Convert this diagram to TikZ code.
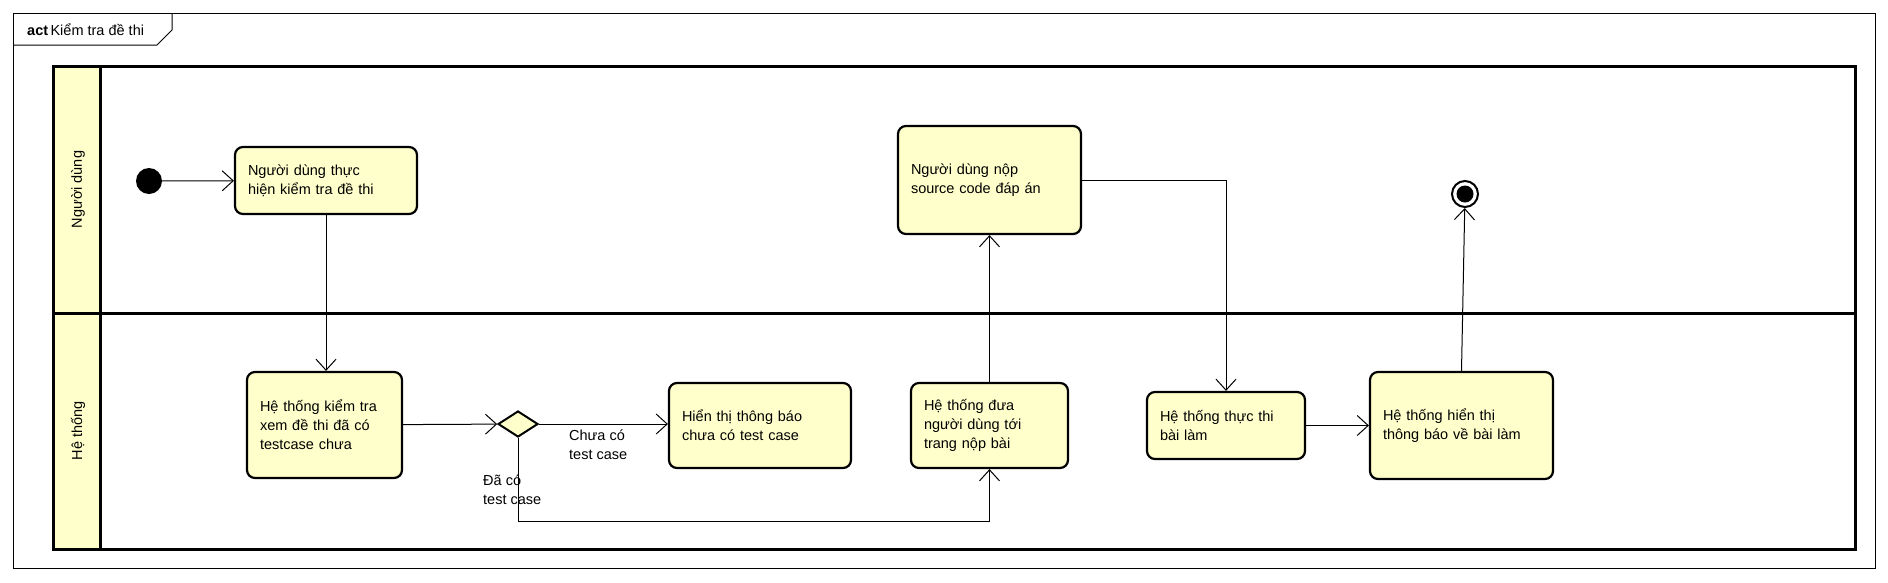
\documentclass[tikz,border=0pt]{standalone}
\usepackage{fontspec}
\setmainfont{Liberation Sans}
\usetikzlibrary{arrows.meta,shapes.geometric}
\definecolor{uyellow}{RGB}{255,255,204}
\tikzset{
  actbox/.style={draw, line width=2.2pt, rounded corners=8pt, fill=uyellow, align=left,
    inner xsep=13pt, inner ysep=0pt, font=\fontsize{14.5}{19}\selectfont},
  flow/.style={line width=1pt, -{Straight Barb[length=11pt,width=20pt]}},
  lbl/.style={font=\fontsize{14.5}{19}\selectfont, align=left, inner sep=0pt, anchor=north west},
  lane/.style={line width=3pt},
}
\begin{document}
\begin{tikzpicture}[x=1pt,y=-1pt]
\useasboundingbox (0,0) rectangle (1888,582);
% frame
\draw[line width=1pt] (13,13) rectangle (1875,568);
\draw[line width=1pt] (13,45) -- (157,45) -- (172,30) -- (172,13);
\node[anchor=west, inner sep=0pt, font=\fontsize{14.5}{17}\selectfont] (title) at (27,30) {\textbf{act}\,Kiểm tra đề thi};
% lanes
\fill[uyellow] (53,66) rectangle (100,549);
\draw[lane] (53,66) rectangle (1855,549);
\draw[lane] (100,66) -- (100,549);
\draw[lane] (53,313) -- (1855,313);
\node[rotate=90, font=\fontsize{14.5}{17}\selectfont] (lane1) at (78,189.5) {Người dùng};
\node[rotate=90, font=\fontsize{14.5}{17}\selectfont] (lane2) at (78,431) {Hệ thống};
% nodes
\node[circle, fill=black, minimum size=26pt, inner sep=0pt] (init) at (149,181) {};
\node[actbox, text width=156pt, minimum height=67pt] (A) at (326,180.5) {Người dùng thực\\hiện kiểm tra đề thi};
\node[actbox, text width=129pt, minimum height=106pt] (B) at (324.5,425) {Hệ thống kiểm tra\\xem đề thi đã có\\testcase chưa};
\node[diamond, draw, line width=2pt, fill=uyellow, minimum width=40pt, minimum height=26pt, inner sep=0pt] (dec) at (518,424) {};
\node[actbox, text width=156pt, minimum height=85pt] (C) at (760,425.5) {Hiển thị thông báo\\chưa có test case};
\node[actbox, text width=131pt, minimum height=85pt] (Dn) at (989.5,425.5) {Hệ thống đưa\\người dùng tới\\trang nộp bài};
\node[actbox, text width=157pt, minimum height=108pt] (E) at (989.5,180) {Người dùng nộp\\source code đáp án};
\node[actbox, text width=132pt, minimum height=67pt] (F) at (1226,425.5) {Hệ thống thực thi\\bài làm};
\node[actbox, text width=157pt, minimum height=107pt] (G) at (1461.5,425.5) {Hệ thống hiển thị\\thông báo về bài làm};
\node[circle, draw, line width=2pt, fill=white, minimum size=26pt, inner sep=0pt] (fin) at (1465,194) {};
\fill (fin.center) circle (8.5);
% labels
\node[lbl] (l1) at (569,430) {Chưa có\\test case};
\node[lbl] (l2) at (483,475) {Đã có\\test case};
% connectors
\coordinate (bend) at (518,521);
\draw[flow] (init) -- (A);
\draw[flow] (A.south) -- (A.south |- B.north);
\draw[flow] (B) -- (dec);
\draw[flow] (dec.east) -- (C.west |- dec.east);
\draw[flow] (dec.south) -- (bend) -| (Dn.south);
\draw[flow] (Dn.north) -- (Dn.north |- E.south);
\draw[flow] (E.east) -| (F.north);
\draw[flow] (F) -- (G);
\draw[flow] (G.north) -- (fin);
\end{tikzpicture}
\end{document}
